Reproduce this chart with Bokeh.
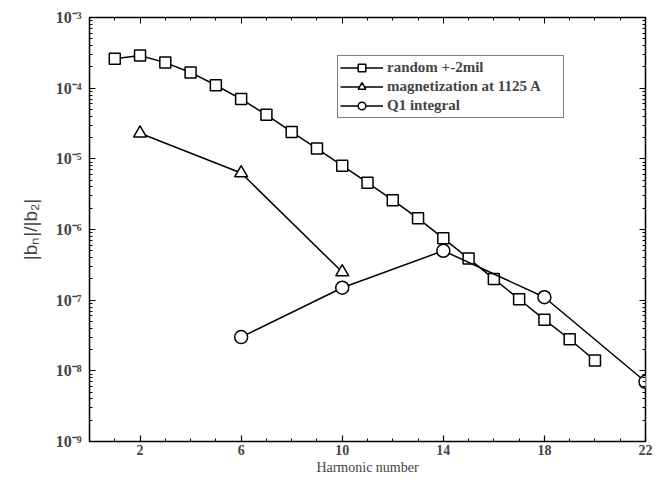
from bokeh.plotting import figure
from bokeh.models import (LogAxis, LinearAxis, FixedTicker, LogTicker, Legend, LegendItem,
                          CustomJSTickFormatter, Range1d)
from bokeh.embed import file_html
from bokeh.resources import INLINE

# ---- data ----
harm_random = list(range(1, 21))
val_random = [2.6e-4, 2.9e-4, 2.3e-4, 1.67e-4, 1.1e-4, 7.0e-5, 4.2e-5, 2.4e-5, 1.4e-5, 8.0e-6,
              4.6e-6, 2.6e-6, 1.44e-6, 7.5e-7, 3.9e-7, 2.0e-7, 1.03e-7, 5.3e-8, 2.8e-8, 1.4e-8]
harm_magn = [2, 6, 10]
val_magn = [2.3e-5, 6.3e-6, 2.5e-7]
harm_q1 = [6, 10, 14, 18, 22]
val_q1 = [3.0e-8, 1.5e-7, 5.0e-7, 1.1e-7, 7.0e-9]
x_ticks = [2, 6, 10, 14, 18, 22]
x_minor = list(range(0, 23))
series_labels = ["random +-2mil", "magnetization at 1125 A", "Q1 integral"]

SERIF = "Liberation Serif"

p = figure(width=656, height=478, y_axis_type="log", output_backend="svg",
           toolbar_location=None, x_range=Range1d(0, 22), y_range=Range1d(1e-9, 1e-3),
           min_border_left=89, min_border_right=11, min_border_top=17, min_border_bottom=37)
p.grid.visible = False
p.background_fill_color = "white"
p.border_fill_color = "white"
p.outline_line_color = "black"
p.outline_line_width = 1.5

sup = CustomJSTickFormatter(code="""
const m = {'-':'\u207b','0':'\u2070','1':'\u00b9','2':'\u00b2','3':'\u00b3','4':'\u2074','5':'\u2075','6':'\u2076','7':'\u2077','8':'\u2078','9':'\u2079'};
const e = Math.round(Math.log10(tick));
return '10' + String(e).split('').map(c => m[c]).join('');
""")
blank = CustomJSTickFormatter(code="return '';")

# axes styling
ya = p.yaxis[0]
ya.ticker = LogTicker(num_minor_ticks=10)
ya.formatter = sup
ya.axis_label = "|b\u2099|/|b\u2082|"
ya.axis_label_text_font = "Liberation Sans"
ya.axis_label_text_font_style = "normal"
ya.axis_label_text_font_size = "19px"
ya.axis_label_standoff = 12
ya.major_label_text_font = SERIF
ya.major_label_text_font_size = "16px"
ya.major_label_text_font_style = "bold"
ya.major_label_standoff = 8

xa = p.xaxis[0]
xa.ticker = FixedTicker(ticks=x_ticks, minor_ticks=x_minor)
xa.axis_label = "Harmonic number"
xa.axis_label_text_font = SERIF
xa.axis_label_text_font_style = "normal"
xa.axis_label_text_font_size = "14px"
xa.axis_label_standoff = 2
xa.major_label_text_font = SERIF
xa.major_label_text_font_size = "14px"
xa.major_label_text_font_style = "bold"
xa.major_label_standoff = 3

for ax in (xa, ya):
    ax.axis_line_color = None
    ax.major_tick_in = 6
    ax.major_tick_out = 0
    ax.minor_tick_in = 3
    ax.minor_tick_out = 0
    ax.major_tick_line_width = 1.2
    ax.minor_tick_line_width = 1

right = LogAxis(ticker=LogTicker(num_minor_ticks=10), formatter=blank,
                major_label_standoff=0, axis_line_color=None, major_tick_in=6, major_tick_out=0,
                minor_tick_in=3, minor_tick_out=0)
top = LinearAxis(ticker=FixedTicker(ticks=x_ticks, minor_ticks=x_minor), formatter=blank,
                 major_label_standoff=0, axis_line_color=None, major_tick_in=6, major_tick_out=0,
                 minor_tick_in=3, minor_tick_out=0)
p.add_layout(right, "right")
p.add_layout(top, "above")

# series
l1 = p.line(harm_random, val_random, line_color="black", line_width=1.5)
s1 = p.scatter(harm_random, val_random, marker="square", size=11, fill_color="white",
               line_color="black", line_width=1.5)
l2 = p.line(harm_magn, val_magn, line_color="black", line_width=1.5)
s2 = p.scatter(harm_magn, val_magn, marker="triangle", size=13, fill_color="white",
               line_color="black", line_width=1.5)
l3 = p.line(harm_q1, val_q1, line_color="black", line_width=1.5)
s3 = p.scatter(harm_q1, val_q1, marker="circle", size=13, fill_color="white",
               line_color="black", line_width=1.5)

legend = Legend(items=[LegendItem(label=series_labels[0], renderers=[l1, s1]),
                       LegendItem(label=series_labels[1], renderers=[l2, s2]),
                       LegendItem(label=series_labels[2], renderers=[l3, s3])],
                location=(248, 323), border_line_color="black", border_line_width=1.5,
                background_fill_alpha=1, label_text_font=SERIF, label_text_font_size="15px",
                label_text_font_style="bold", glyph_width=43, glyph_height=19, spacing=0,
                padding=2, margin=0, label_standoff=4, label_height=19, label_width=174)
p.add_layout(legend)

open("out.html", "w").write(file_html(p, INLINE))
